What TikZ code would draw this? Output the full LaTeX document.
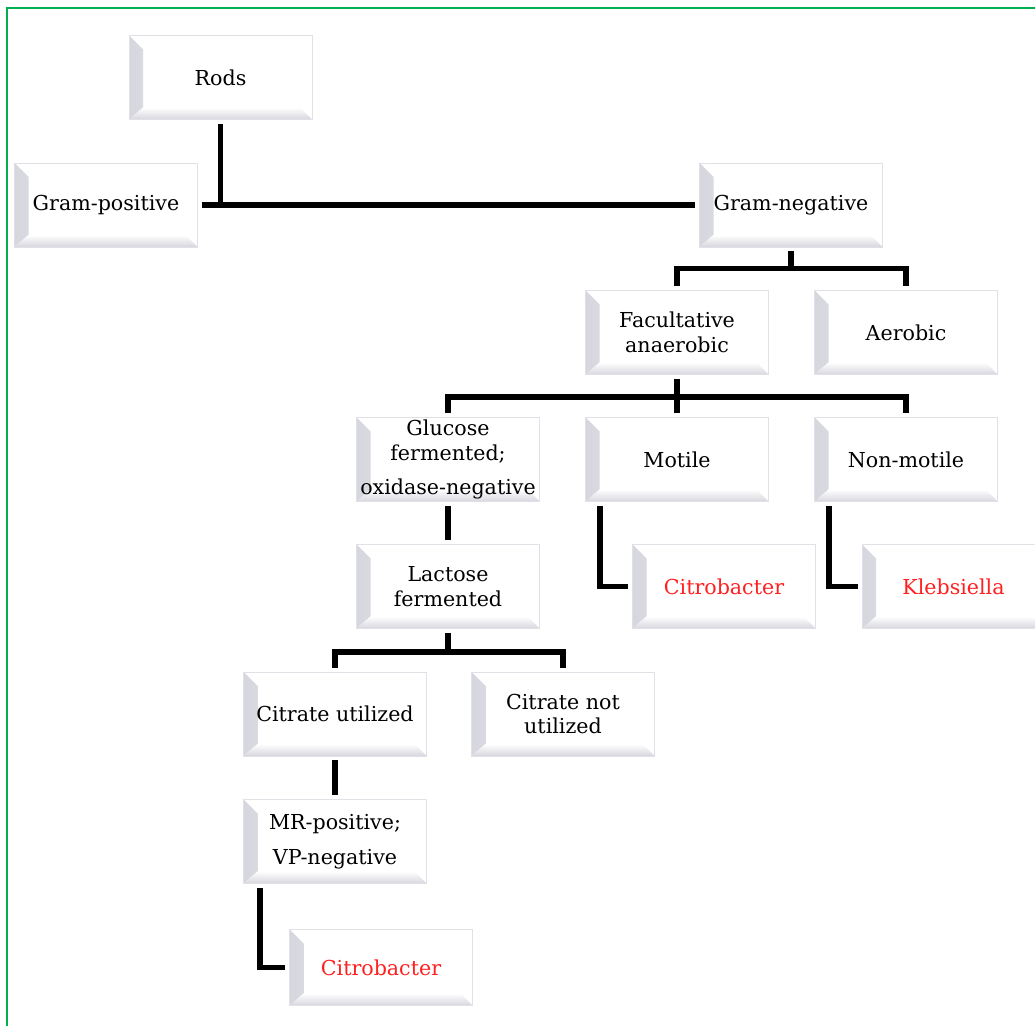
\documentclass[tikz,border=0pt]{standalone}
\usepackage{fontspec}
\setmainfont{DejaVu Serif}
\usetikzlibrary{calc}
\definecolor{bevelgray}{RGB}{214,214,222}
\definecolor{edgegray}{RGB}{224,224,230}
\definecolor{framegreen}{RGB}{0,176,80}
\definecolor{genusred}{RGB}{255,32,32}

\begin{document}
\begin{tikzpicture}[x=0.5pt, y=-0.5pt,
    box/.style={rectangle, draw=edgegray, fill=white, minimum width=91.5pt, minimum height=42pt,
        inner xsep=1pt, inner ysep=1pt, align=center, font=\fontsize{10.3}{12.3}\selectfont,
        path picture={
            \shade[left color=bevelgray, right color=white]
                (path picture bounding box.south west) -- (path picture bounding box.north west)
                -- ([shift={(7pt,-7pt)}]path picture bounding box.north west)
                -- ([shift={(7pt,6pt)}]path picture bounding box.south west) -- cycle;
            \shade[top color=white, bottom color=bevelgray]
                (path picture bounding box.south west) -- (path picture bounding box.south east)
                -- ([shift={(-6pt,6pt)}]path picture bounding box.south east)
                -- ([shift={(7pt,6pt)}]path picture bounding box.south west) -- cycle;
        }},
    genus/.style={box, text=genusred},
    link/.style={line width=2.8pt, shorten <=2pt, shorten >=2pt}]
    \clip (0,0) rectangle (1035,1026);
    \draw[framegreen, line width=1pt] (7,1030) -- (7,8) -- (1040,8);
    % boxes
    \node[box] (rods)      at (220.5,77.5) {Rods};
    \node[box] (gpos)      at (106,205)    {Gram-positive};
    \node[box] (gneg)      at (791,205)    {Gram-negative};
    \node[box] (facana)    at (677,332.5)  {Facultative\\anaerobic};
    \node[box] (aerobic)   at (906,332.5)  {Aerobic};
    \node[box] (glucose)   at (448,459.5)  {Glucose\\fermented;\\[5pt]oxidase-negative};
    \node[box] (motile)    at (677,459.5)  {Motile};
    \node[box] (nonmotile) at (906,459.5)  {Non-motile};
    \node[genus] (citro1)  at (724,586.5)  {Citrobacter};
    \node[genus] (klebs)   at (953.5,586.5) {Klebsiella};
    \node[box] (lactose)   at (448,586.5)  {Lactose\\fermented};
    \node[box] (citut)     at (335,714)    {Citrate utilized};
    \node[box] (citnot)    at (563,714)    {Citrate not\\utilized};
    \node[box] (mr)        at (335,841.5)  {MR-positive;\\[5pt]VP-negative};
    \node[genus, minimum height=38pt] (citro2) at (381,967.5) {Citrobacter};
    % bus points
    \coordinate (gnegbus) at ($(gneg.south)+(0,21)$);
    \coordinate (facbus)  at ($(facana.south)+(0,22)$);
    \coordinate (lacbus)  at ($(lactose.south)+(0,23)$);
    % connectors
    \draw[link, shorten >=0pt] (rods.south) -- (rods.south |- gpos.east);
    \draw[link] (gpos.east) -- (gneg.west);
    \draw[link, shorten >=0pt] (gneg.south) -- (gnegbus);
    \draw[link] (facana.north) |- (gnegbus) -| (aerobic.north);
    \draw[link] (facana.south) -- (motile.north);
    \draw[link] (glucose.north) |- (facbus) -| (nonmotile.north);
    \draw[link] (glucose.south) -- (lactose.north);
    \draw[link, shorten >=0pt] (lactose.south) -- (lacbus);
    \draw[link] (citut.north) |- (lacbus) -| (citnot.north);
    \draw[link] (citut.south) -- (mr.north);
    \draw[link] ($(motile.south west)+(15,0)$) |- (citro1.west);
    \draw[link] ($(nonmotile.south west)+(15,0)$) |- (klebs.west);
    \draw[link] ($(mr.south west)+(17,0)$) |- (citro2.west);
\end{tikzpicture}
\end{document}
